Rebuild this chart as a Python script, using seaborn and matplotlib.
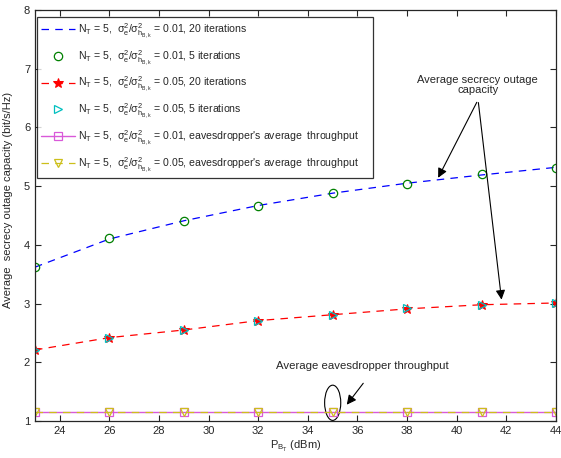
import matplotlib
matplotlib.use("Agg")
import matplotlib.pyplot as plt
from matplotlib.patches import Ellipse
import seaborn as sns
import numpy as np

# transmit power of Bob (dBm)
power = [23, 26, 29, 32, 35, 38, 41, 44]

# secrecy outage capacity, sigma ratio 0.01
cap_001_20 = [3.62, 4.10, 4.41, 4.67, 4.88, 5.05, 5.19, 5.32]
cap_001_5 = [3.62, 4.11, 4.40, 4.67, 4.89, 5.04, 5.21, 5.31]
# secrecy outage capacity, sigma ratio 0.05
cap_005_20 = [2.21, 2.42, 2.55, 2.71, 2.81, 2.91, 2.98, 3.01]
cap_005_5 = [2.21, 2.42, 2.55, 2.70, 2.81, 2.92, 2.98, 3.01]
# eavesdropper's average throughput
eve_001 = [1.15, 1.15, 1.15, 1.15, 1.15, 1.15, 1.15, 1.15]
eve_005 = [1.15, 1.15, 1.15, 1.15, 1.15, 1.15, 1.15, 1.15]

xticks = [24, 26, 28, 30, 32, 34, 36, 38, 40, 42, 44]
yticks = [1, 2, 3, 4, 5, 6, 7, 8]

lab = r"$\mathrm{N_T}$ = 5,  $\mathrm{\sigma_e^2/\sigma^2_{h_{B,k}}}$"
labels = [lab + " = 0.01, 20 iterations",
          lab + " = 0.01, 5 iterations",
          lab + " = 0.05, 20 iterations",
          lab + " = 0.05, 5 iterations",
          lab + " = 0.01, eavesdropper's average  throughput    ",
          lab + " = 0.05, eavesdropper's average  throughput    "]

sns.set_style("ticks")
plt.rcParams["font.family"] = ["Liberation Sans", "DejaVu Sans"]
plt.rcParams["mathtext.fontset"] = "custom"
plt.rcParams["mathtext.rm"] = "Liberation Sans"
plt.rcParams["mathtext.it"] = "Liberation Sans"
plt.rcParams["xtick.direction"] = "in"
plt.rcParams["ytick.direction"] = "in"

fig = plt.figure(figsize=(5.61, 4.58), dpi=100)
ax = fig.add_axes([0.0624, 0.0808, 0.9286, 0.8974])

green = (0.0, 0.5, 0.0)
cyan = (0.0, 0.75, 0.75)
magenta = (0.85, 0.35, 0.85)
yellow = (0.8, 0.75, 0.1)

sns.lineplot(x=power, y=cap_001_20, color="blue", linestyle=(0, (6, 5)), lw=0.9,
             label=labels[0], ax=ax)
sns.lineplot(x=power, y=cap_001_5, color=green, linestyle="none", marker="o",
             markerfacecolor="none", markeredgecolor=green, markersize=6, mew=0.9,
             label=labels[1], ax=ax)
sns.lineplot(x=power, y=cap_005_20, color="red", linestyle=(0, (6, 5)), lw=0.9,
             marker="*", markersize=7, markerfacecolor="red", markeredgecolor="red",
             label=labels[2], ax=ax)
sns.lineplot(x=power, y=cap_005_5, color=cyan, linestyle="none", marker=">",
             markerfacecolor="none", markeredgecolor=cyan, markersize=6, mew=0.9,
             label=labels[3], ax=ax)
sns.lineplot(x=power, y=eve_001, color=magenta, linestyle="-", lw=1.0, marker="s",
             markerfacecolor="none", markeredgecolor=magenta, markersize=6, mew=0.9,
             label=labels[4], ax=ax)
sns.lineplot(x=power, y=eve_005, color=yellow, linestyle=(0, (6, 5)), lw=0.9,
             marker="v", markerfacecolor="none", markeredgecolor=yellow, markersize=6,
             mew=0.9, label=labels[5], ax=ax)

ax.set_xlim(23, 44)
ax.set_ylim(1, 8)
ax.set_xticks(xticks)
ax.set_yticks(yticks)
ax.tick_params(labelsize=8, top=True, right=True, length=4, width=0.8)
for s in ax.spines.values():
    s.set_visible(True)
    s.set_linewidth(0.9)
ax.set_xlabel(r"$\mathrm{P_{B_T}}$ (dBm)", fontsize=8, labelpad=2)
ax.set_ylabel("Average  secrecy outage capacity (bit/s/Hz)", fontsize=8)
ax.yaxis.set_label_coords(-0.042, 0.538)

leg = ax.legend(loc="upper left", bbox_to_anchor=(0.003, 0.984), fontsize=7.6,
                frameon=True, fancybox=False, edgecolor="black", handlelength=3.2,
                handletextpad=0.3, labelspacing=0.78, borderaxespad=0.0, borderpad=0.45)
leg.get_frame().set_linewidth(0.9)

# annotations
ax.text(40.85, 6.72, "Average secrecy outage\ncapacity", ha="center", va="center",
        fontsize=8, linespacing=1.0)
ax.annotate("", xy=(39.2, 5.1), xytext=(40.86, 6.47),
            arrowprops=dict(arrowstyle="-|>", color="black", lw=0.8, mutation_scale=14))
ax.annotate("", xy=(41.82, 3.02), xytext=(40.86, 6.47),
            arrowprops=dict(arrowstyle="-|>", color="black", lw=0.8, mutation_scale=14))
ax.text(36.2, 1.93, "Average eavesdropper throughput", ha="center", va="center",
        fontsize=8.2)
ax.add_patch(Ellipse((35.0, 1.31), 0.65, 0.6, fill=False, edgecolor="black", lw=0.8))
ax.annotate("", xy=(35.5, 1.24), xytext=(36.3, 1.68),
            arrowprops=dict(arrowstyle="-|>", color="black", lw=0.8, mutation_scale=14))

fig.savefig("out.png", dpi=100)
